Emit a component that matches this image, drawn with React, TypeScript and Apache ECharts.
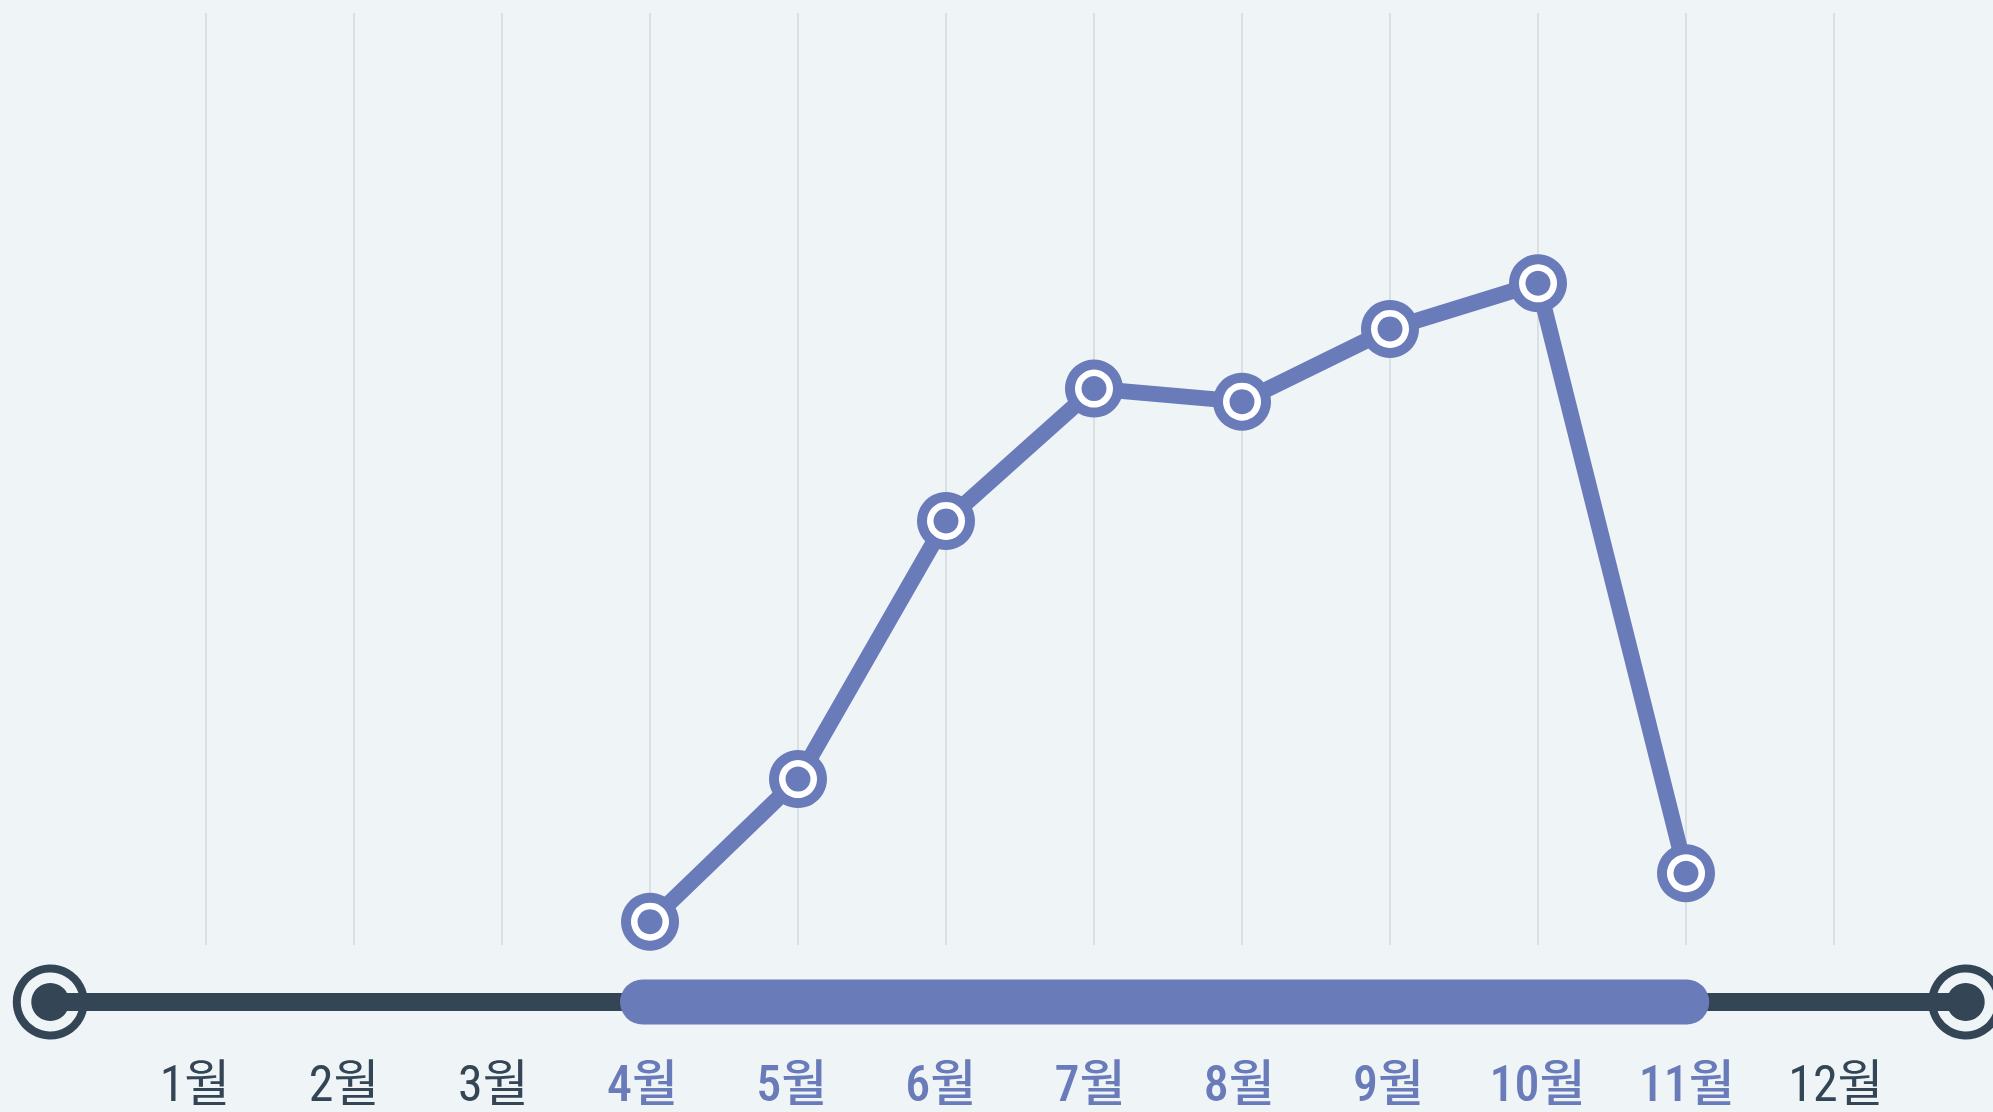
import React, { useEffect, useRef } from "react";
import * as echarts from "echarts";

// ---- data ----
const months = ["1월", "2월", "3월", "4월", "5월", "6월", "7월", "8월", "9월", "10월", "11월", "12월"];
const monthNumbers = [1, 2, 3, 4, 5, 6, 7, 8, 9, 10, 11, 12];
const values: (number | null)[] = [null, null, null, 2.5, 17.8, 45.5, 59.7, 58.3, 66.1, 71.0, 7.7, null];
const rangeMonths = [4, 11];
const timelineEnds = [0.03, 12.87];

const BLUE = "#6a7bb9";
const DARK = "#344556";
const BG = "#eff4f7";
const GRIDLINE = "#d3d8dd";

export default function App() {
  const ref = useRef<HTMLDivElement>(null);
  useEffect(() => {
    if (!ref.current) return;
    const chart = echarts.init(ref.current, undefined, { renderer: "svg" });
    const inRange = (m: number) => m >= rangeMonths[0] && m <= rangeMonths[1];
    const fontFamily =
      "'Roboto Condensed', 'Liberation Sans Narrow', 'Arial Narrow', 'DejaVu Sans Condensed', 'Noto Sans CJK KR', sans-serif";
    const pointPairs = values
      .map((v, i) => [months[i], v] as [string, number | null])
      .filter((d) => d[1] !== null);
    const markerLayer = (size: number, color: string, z: number) => ({
      type: "scatter",
      xAxisIndex: 0,
      yAxisIndex: 0,
      data: pointPairs,
      symbol: "circle",
      symbolSize: size,
      itemStyle: { color, opacity: 1 },
      z,
    });
    chart.setOption({
      animation: false,
      backgroundColor: BG,
      grid: [
        { left: 206, right: 159, top: 13, bottom: 167 },
        { left: 45.8, right: 27.3, top: 982, height: 40 },
      ],
      xAxis: [
        {
          gridIndex: 0,
          type: "category",
          data: months,
          boundaryGap: false,
          axisLine: { show: false },
          axisTick: { show: false },
          axisLabel: { show: false },
          splitLine: { show: true, lineStyle: { color: GRIDLINE, width: 1.5 } },
        },
        {
          gridIndex: 1,
          type: "value",
          min: 0,
          max: timelineEnds[1],
          interval: 1,
          axisLine: { show: false },
          axisTick: { show: false },
          splitLine: { show: false },
          axisLabel: {
            show: true,
            margin: 37,
            showMaxLabel: false,
            formatter: (v: number) => {
              if (!monthNumbers.includes(v)) return "";
              return inRange(v) ? `{a|${months[v - 1]}}` : `{b|${months[v - 1]}}`;
            },
            rich: {
              a: { color: BLUE, fontSize: 50, fontFamily, fontWeight: 500 },
              b: { color: DARK, fontSize: 50, fontFamily, fontWeight: "normal" },
            },
          },
        },
      ],
      yAxis: [
        { gridIndex: 0, type: "value", min: 0, max: 100, show: false },
        { gridIndex: 1, type: "value", min: -1, max: 1, show: false },
      ],
      series: [
        {
          type: "line",
          xAxisIndex: 1,
          yAxisIndex: 1,
          data: timelineEnds.map((x) => [x, 0]),
          lineStyle: { color: DARK, width: 18 },
          symbol: "circle",
          symbolSize: 38,
          itemStyle: { color: DARK, opacity: 1 },
          z: 2,
        },
        {
          type: "scatter",
          xAxisIndex: 1,
          yAxisIndex: 1,
          data: timelineEnds.map((x) => [x, 0]),
          symbol: "circle",
          symbolSize: 67,
          itemStyle: { color: "rgba(0,0,0,0)", borderColor: DARK, borderWidth: 8, opacity: 1 },
          z: 3,
        },
        {
          type: "line",
          xAxisIndex: 1,
          yAxisIndex: 1,
          data: rangeMonths.map((x) => [x, 0]),
          lineStyle: { color: BLUE, width: 45, cap: "round" },
          symbol: "none",
          z: 4,
        },
        {
          type: "line",
          xAxisIndex: 0,
          yAxisIndex: 0,
          data: values,
          lineStyle: { color: BLUE, width: 16 },
          symbol: "none",
          z: 1,
        },
        markerLayer(58, BLUE, 2),
        markerLayer(38, "#ffffff", 3),
        markerLayer(25, BLUE, 4),
      ],
    });
    return () => chart.dispose();
  }, []);
  return (
    <div
      ref={ref}
      style={{ position: "absolute", left: 0, top: 0, width: 1993, height: 1112 }}
    />
  );
}
